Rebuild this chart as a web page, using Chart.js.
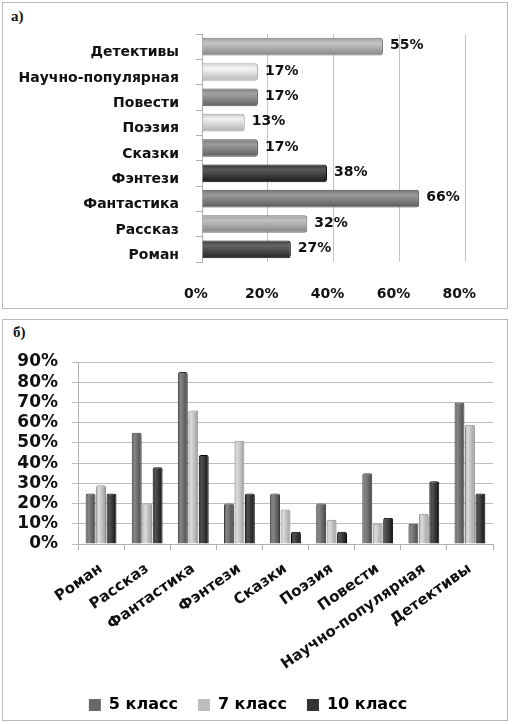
<!DOCTYPE html>
<html>
<head>
<meta charset="utf-8">
<script src="https://cdn.jsdelivr.net/npm/chart.js@4"></script>
<style>
  body { margin: 0; background: #fff; width: 512px; height: 724px; position: relative; overflow: hidden; }
  .box { position: absolute; border: 1px solid #b8b8b8; background: #fff; }
  .tag { position: absolute; font: bold 15px "Liberation Serif", serif; color: #111; }
  canvas { position: absolute; }
</style>
</head>
<body>
<div class="box" style="left:2px; top:2px; width:504px; height:305px"></div>
<div class="box" style="left:2px; top:319px; width:504px; height:400px"></div>
<div class="tag" style="left:11px; top:8px">а)</div>
<div class="tag" style="left:13px; top:324px">б)</div>
<div style="position:absolute; left:3px; top:3px; width:503px; height:304px"><canvas id="chartA"></canvas></div>
<div style="position:absolute; left:3px; top:320px; width:503px; height:403px"><canvas id="chartB"></canvas></div>
<script>
// а) доля жанров (общая)
const categoriesA = ['Роман', 'Рассказ', 'Фантастика', 'Фэнтези', 'Сказки', 'Поэзия', 'Повести', 'Научно-популярная', 'Детективы']
const valuesA = [27, 32, 66, 38, 17, 13, 17, 17, 55]
const colorsA = ['#464646', '#a4a4a4', '#7c7c7c', '#3c3c3c', '#7e7e7e', '#d2d2d2', '#858585', '#d8d8d8', '#a8a8a8']
const ticksA = [0, 20, 40, 60, 80]

// б) по классам
const categoriesB = ['Роман', 'Рассказ', 'Фантастика', 'Фэнтези', 'Сказки', 'Поэзия', 'Повести', 'Научно-популярная', 'Детективы']
const grade5 = [25, 55, 85, 20, 25, 20, 35, 10, 70]
const grade7 = [29, 20, 66, 51, 17, 12, 10, 15, 59]
const grade10 = [25, 38, 44, 25, 6, 6, 13, 31, 25]
const seriesNames = ['5 класс', '7 класс', '10 класс']
const seriesColors = ['#686868', '#bdbdbd', '#333333']

const font = '"DejaVu Sans", Verdana, sans-serif'
Chart.defaults.font.family = font
Chart.defaults.color = '#111'
Chart.defaults.animation = false

function shade(hex, amt) {
    const n = parseInt(hex.slice(1), 16)
    const f = c => Math.max(0, Math.min(255, Math.round(c + amt)))
    return `rgb(${f(n >> 16)},${f((n >> 8) & 255)},${f(n & 255)})`
}

// цилиндрическая заливка
function tube(ctx, base, a, b, vertical) {
    if (!Number.isFinite(a) || !Number.isFinite(b)) return base
    const g = vertical ? ctx.createLinearGradient(0, a, 0, b) : ctx.createLinearGradient(a, 0, b, 0)
    g.addColorStop(0, shade(base, -10))
    g.addColorStop(0.3, shade(base, 30))
    g.addColorStop(1, shade(base, -35))
    return g
}

const barLabels = {
    id: 'barLabels',
    afterDatasetsDraw(chart) {
        const ctx = chart.ctx
        ctx.save()
        ctx.font = 'bold 14px ' + font
        ctx.fillStyle = '#111'
        ctx.textBaseline = 'middle'
        chart.getDatasetMeta(0).data.forEach((bar, i) => {
            ctx.fillText(valuesA[i] + '%', bar.x + 7, bar.y - 1)
        })
        ctx.restore()
    }
}

new Chart(document.querySelector('#chartA'), {
    type: 'bar',
    data: {
        labels: categoriesA,
        datasets: [{
            data: valuesA,
            backgroundColor: c => {
                const base = colorsA[c.dataIndex]
                const y = c.chart.scales.y
                if (!y || c.dataIndex === undefined) return base
                const py = y.getPixelForValue(c.dataIndex)
                return tube(c.chart.ctx, base, py - 9, py + 9, true)
            },
            borderColor: colorsA.map(c => shade(c, -50)),
            borderWidth: 1,
            borderRadius: 3,
            borderSkipped: 'left',
            barPercentage: 0.7,
            categoryPercentage: 1
        }]
    },
    options: {
        indexAxis: 'y',
        responsive: true,
        maintainAspectRatio: false,
        layout: { padding: { top: 31, right: 35, bottom: 0, left: 0 } },
        plugins: { legend: { display: false }, tooltip: { enabled: false } },
        scales: {
            x: {
                min: 0, max: 80,
                afterBuildTicks: s => { s.ticks = ticksA.map(v => ({ value: v })) },
                afterFit: s => { s.height = 45 },
                grid: { color: '#c4c4c4', drawTicks: false },
                border: { display: false },
                ticks: { padding: 24, labelOffset: -6, font: { size: 14, weight: 'bold' }, callback: v => v + '%' }
            },
            y: {
                reverse: true,
                afterFit: s => { s.width = 199 },
                grid: { drawOnChartArea: false, color: '#b0b0b0', tickLength: 6, offset: true },
                border: { color: '#b0b0b0' },
                ticks: { padding: 17, labelOffset: 6, font: { size: 14, weight: 'bold' } }
            }
        }
    },
    plugins: [barLabels]
})

const seriesData = [grade5, grade7, grade10]
const catPct = 0.68

new Chart(document.querySelector('#chartB'), {
    type: 'bar',
    data: {
        labels: categoriesB,
        datasets: seriesData.map((d, k) => ({
            label: seriesNames[k],
            data: d,
            backgroundColor: c => {
                const base = seriesColors[k]
                const x = c.chart.scales.x
                if (!x || c.dataIndex === undefined) return base
                const slot = x.width / categoriesB.length * catPct / 3
                const px = x.getPixelForValue(c.dataIndex) + (k - 1) * slot
                return tube(c.chart.ctx, base, px - slot / 2, px + slot / 2, false)
            },
            borderColor: shade(seriesColors[k], -50),
            borderWidth: 1,
            borderRadius: 2,
            borderSkipped: 'bottom',
            barPercentage: 0.95,
            categoryPercentage: catPct
        }))
    },
    options: {
        responsive: true,
        maintainAspectRatio: false,
        layout: { padding: { top: 42, right: 13, bottom: 0, left: 0 } },
        plugins: {
            tooltip: { enabled: false },
            legend: {
                position: 'bottom',
                labels: {
                    boxWidth: 12, boxHeight: 12, padding: 20,
                    font: { size: 16, weight: 'bold' },
                    generateLabels: chart => seriesNames.map((n, k) => ({
                        text: n, fillStyle: seriesColors[k], strokeStyle: seriesColors[k], lineWidth: 0, datasetIndex: k
                    }))
                }
            }
        },
        scales: {
            x: {
                afterFit: s => { s.height = 133 },
                grid: { drawOnChartArea: false, color: '#b0b0b0', tickLength: 6, offset: true },
                border: { color: '#b0b0b0' },
                ticks: { minRotation: 35, maxRotation: 35, padding: 10, font: { size: 15, weight: 'bold' } }
            },
            y: {
                min: 0, max: 90,
                afterFit: s => { s.width = 75 },
                grid: { color: '#bdbdbd', tickLength: 6 },
                border: { color: '#b0b0b0' },
                ticks: { stepSize: 10, autoSkip: false, padding: 14, font: { size: 17, weight: 'bold' }, callback: v => v + '%' }
            }
        }
    }
})
</script>
</body>
</html>
